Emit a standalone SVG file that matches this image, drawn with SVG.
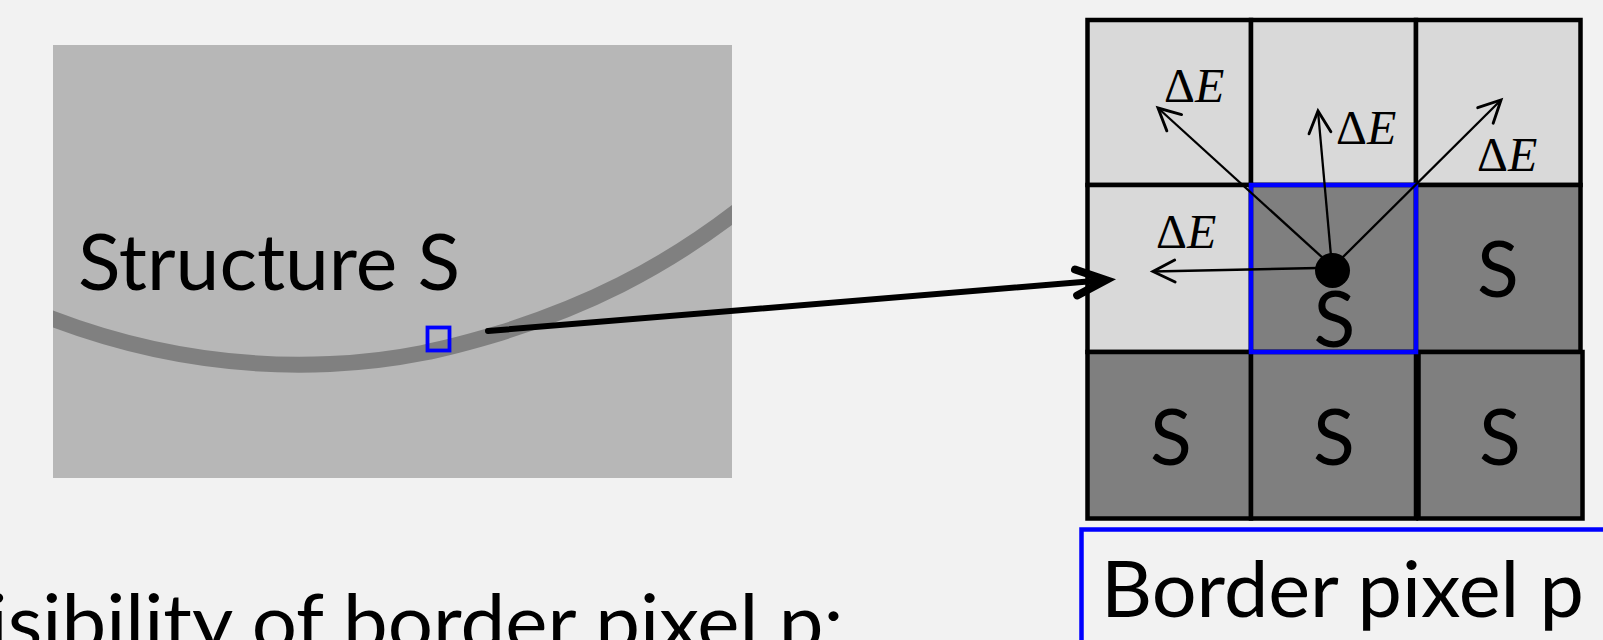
<svg xmlns="http://www.w3.org/2000/svg" width="1603" height="640" viewBox="0 0 1603 640">
  <style>
    .sans { font-family: Lato, "Open Sans", "Liberation Sans", sans-serif; fill: #000; }
    .big { font-size: 77px; }
    .math { font-family: "Liberation Serif", "DejaVu Serif", serif; font-size: 48px; fill: #000; }
    .light { fill: #d9d9d9; stroke: #000; stroke-width: 4.5; }
    .dark { fill: #7f7f7f; stroke: #000; stroke-width: 4.5; }
    .thin { stroke: #000; stroke-width: 2.3; fill: none; marker-end: url(#open); }
  </style>
  <defs>
    <marker id="open" markerUnits="userSpaceOnUse" markerWidth="30" markerHeight="30" viewBox="-22 -12 26 24" refX="0" refY="0" orient="auto">
      <path d="M-19,-9.5 L0,0 L-19,9.5" fill="none" stroke="#000" stroke-width="2.5" stroke-linecap="round" stroke-linejoin="miter"/>
    </marker>
    <marker id="bold" markerUnits="userSpaceOnUse" markerWidth="50" markerHeight="50" viewBox="-40 -25 50 50" refX="0" refY="0" orient="auto">
      <path d="M-30,-13 L0,0 L-30,13" fill="none" stroke="#000" stroke-width="8" stroke-linecap="round" stroke-linejoin="miter"/>
      <path d="M-14,-6 L0,0 L-14,6 Z" fill="#000"/>
    </marker>
    <clipPath id="imgclip">
      <rect x="53" y="45" width="679" height="433"/>
    </clipPath>
  </defs>

  <rect x="0" y="0" width="1603" height="640" fill="#f2f2f2"/>

  <g id="structure-image">
    <rect x="53" y="45" width="679" height="433" fill="#b7b7b7"/>
    <path clip-path="url(#imgclip)" d="M40,314 C140,354 240,368 330,364 C400,361 450,348 500,333 C580,308 660,272 745,205" fill="none" stroke="#808080" stroke-width="16"/>
    <text class="sans big" x="78" y="290" textLength="382" lengthAdjust="spacingAndGlyphs">Structure S</text>
    <rect x="427.5" y="327.5" width="22" height="23" fill="none" stroke="#0000ff" stroke-width="3.8"/>
  </g>

  <g id="grid">
    <g id="cell-r0c0"><rect class="light" x="1087.5" y="20" width="163.5" height="165"/></g>
    <g id="cell-r0c1"><rect class="light" x="1251" y="20" width="165" height="165"/></g>
    <g id="cell-r0c2"><rect class="light" x="1416" y="20" width="164.5" height="165"/></g>
    <g id="cell-r1c0"><rect class="light" x="1087.5" y="185" width="163.5" height="167"/></g>
    <g id="cell-r1c1"><rect class="dark" x="1251" y="185" width="165" height="167"/>
      <text class="sans big" x="1334.5" y="347" text-anchor="middle">S</text></g>
    <g id="cell-r1c2"><rect class="dark" x="1416" y="185" width="164.5" height="167"/>
      <text class="sans big" x="1498" y="297" text-anchor="middle">S</text></g>
    <g id="cell-r2c0"><rect class="dark" x="1087.5" y="352" width="163.5" height="166.5"/>
      <text class="sans big" x="1171" y="465" text-anchor="middle">S</text></g>
    <g id="cell-r2c1"><rect class="dark" x="1251" y="352" width="165" height="166.5"/>
      <text class="sans big" x="1334" y="465" text-anchor="middle">S</text></g>
    <g id="cell-r2c2"><rect class="dark" x="1418.5" y="352" width="164" height="166.5"/>
      <text class="sans big" x="1500" y="465" text-anchor="middle">S</text></g>
    <g id="border-pixel"><rect x="1251" y="185" width="165" height="167" fill="none" stroke="#0000ff" stroke-width="4.5"/></g>
  </g>

  <g id="connectors">
    <line x1="488" y1="331" x2="1106" y2="280" stroke="#000" stroke-width="6" stroke-linecap="round" marker-end="url(#bold)"/>
    <line class="thin" x1="1324" y1="259" x2="1158" y2="108"/>
    <line class="thin" x1="1331" y1="256" x2="1318" y2="111"/>
    <line class="thin" x1="1342" y1="258" x2="1501" y2="100"/>
    <line class="thin" x1="1318" y1="268" x2="1153" y2="271.5"/>
    <circle cx="1332.5" cy="270.5" r="17.5" fill="#000"/>
    <text class="math" x="1164" y="102">Δ<tspan font-style="italic">E</tspan></text>
    <text class="math" x="1336" y="144">Δ<tspan font-style="italic">E</tspan></text>
    <text class="math" x="1477" y="171">Δ<tspan font-style="italic">E</tspan></text>
    <text class="math" x="1156" y="248">Δ<tspan font-style="italic">E</tspan></text>
  </g>

  <g id="border-pixel-label">
    <rect x="1081.5" y="529.5" width="600" height="200" fill="none" stroke="#0000ff" stroke-width="4.5"/>
    <text class="sans big" x="1101" y="617" textLength="483" lengthAdjust="spacingAndGlyphs">Border pixel p</text>
  </g>

  <g id="caption">
    <text class="sans big" x="-11.5" y="650" textLength="855" lengthAdjust="spacingAndGlyphs">isibility of border pixel p:</text>
  </g>
</svg>
